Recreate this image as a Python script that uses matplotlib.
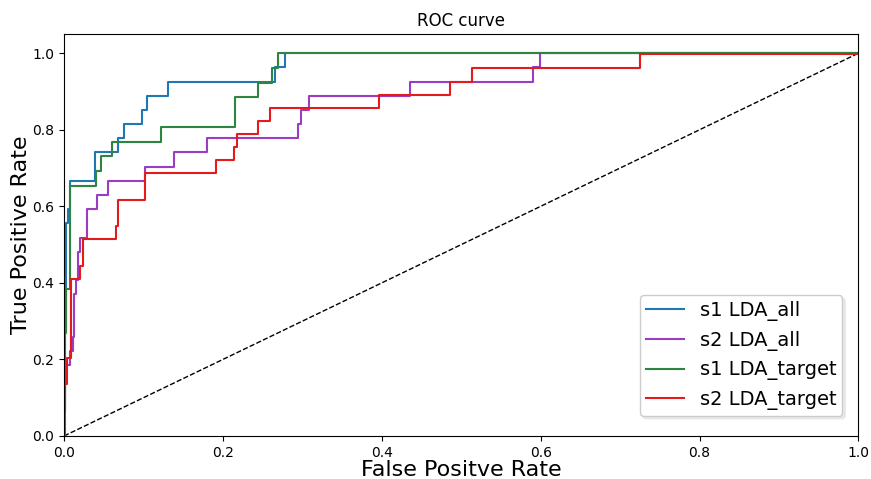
import numpy as np
import matplotlib
matplotlib.use('Agg')
from matplotlib import pyplot as plt

# ROC points (fpr, tpr corners of the step curves)
s1_all_fpr = [0.0, 0.0, 0.001, 0.001, 0.002, 0.002, 0.005, 0.005, 0.007, 0.007, 0.008, 0.008,
              0.039, 0.039, 0.068, 0.068, 0.075, 0.075, 0.098, 0.098, 0.105, 0.105,
              0.131, 0.131, 0.266, 0.266, 0.278, 0.278, 1.0]
s1_all_tpr = [0.0, 0.111, 0.111, 0.296, 0.296, 0.556, 0.556, 0.593, 0.593, 0.630, 0.630, 0.667,
              0.667, 0.741, 0.741, 0.778, 0.778, 0.815, 0.815, 0.852, 0.852, 0.889,
              0.889, 0.926, 0.926, 0.963, 0.963, 1.0, 1.0]

s2_all_fpr = [0.0, 0.0, 0.001, 0.001, 0.008, 0.008, 0.011, 0.011, 0.012, 0.012, 0.015, 0.015,
              0.017, 0.017, 0.020, 0.020, 0.029, 0.029, 0.041, 0.041, 0.055, 0.055,
              0.102, 0.102, 0.138, 0.138, 0.180, 0.180, 0.294, 0.294, 0.298, 0.298,
              0.309, 0.309, 0.436, 0.436, 0.591, 0.591, 0.599, 0.599, 1.0]
s2_all_tpr = [0.0, 0.068, 0.068, 0.185, 0.185, 0.222, 0.222, 0.259, 0.259, 0.370, 0.370, 0.407,
              0.407, 0.481, 0.481, 0.518, 0.518, 0.593, 0.593, 0.630, 0.630, 0.667,
              0.667, 0.704, 0.704, 0.741, 0.741, 0.778, 0.778, 0.815, 0.815, 0.852,
              0.852, 0.889, 0.889, 0.926, 0.926, 0.963, 0.963, 1.0, 1.0]

s1_target_fpr = [0.0, 0.001, 0.001, 0.003, 0.003, 0.007, 0.007, 0.040, 0.040, 0.047, 0.047,
                 0.061, 0.061, 0.122, 0.122, 0.215, 0.215, 0.244, 0.244, 0.262, 0.262,
                 0.269, 0.269, 1.0]
s1_target_tpr = [0.0, 0.0, 0.269, 0.269, 0.385, 0.385, 0.654, 0.654, 0.692, 0.692, 0.731,
                 0.731, 0.769, 0.769, 0.808, 0.808, 0.885, 0.885, 0.923, 0.923, 0.962,
                 0.962, 1.0, 1.0]

s2_target_fpr = [0.0, 0.0, 0.001, 0.001, 0.004, 0.004, 0.009, 0.009, 0.020, 0.020, 0.024, 0.024,
                 0.065, 0.065, 0.068, 0.068, 0.102, 0.102, 0.191, 0.191, 0.214, 0.214,
                 0.218, 0.218, 0.244, 0.244, 0.259, 0.259, 0.397, 0.397, 0.486, 0.486,
                 0.513, 0.513, 0.725, 0.725, 1.0]
s2_target_tpr = [0.0, 0.066, 0.066, 0.135, 0.135, 0.205, 0.205, 0.410, 0.410, 0.444, 0.444, 0.514,
                 0.514, 0.549, 0.549, 0.616, 0.616, 0.686, 0.686, 0.720, 0.720, 0.755,
                 0.755, 0.789, 0.789, 0.824, 0.824, 0.858, 0.858, 0.892, 0.892, 0.925,
                 0.925, 0.962, 0.962, 0.997, 0.997]

chance = [0.0, 1.0]

fig = plt.figure(figsize=(8.71, 4.79), dpi=100)
ax = fig.add_axes([0.0735, 0.0898, 0.912, 0.839])

ax.plot(chance, chance, 'k--', linewidth=1)
ax.plot(s1_all_fpr, s1_all_tpr, color='#1f77b4', linewidth=1.5, label='s1 LDA_all')
ax.plot(s2_all_fpr, s2_all_tpr, color='#9a3cc4', linewidth=1.5, label='s2 LDA_all')
ax.plot(s1_target_fpr, s1_target_tpr, color='#2e8540', linewidth=1.5, label='s1 LDA_target')
ax.plot(s2_target_fpr, s2_target_tpr, color='#e41a1c', linewidth=1.5, label='s2 LDA_target')

ax.set_xlim(0.0, 1.0)
ax.set_ylim(0.0, 1.05)
ax.set_xlabel('False Positve Rate', fontsize=16, labelpad=0)
ax.set_ylabel('True Positive Rate', fontsize=16, labelpad=1)
ax.set_title('ROC curve', fontsize=12)
ax.tick_params(labelsize=10)
ax.legend(loc='lower right', bbox_to_anchor=(0.98, 0.05), borderaxespad=0,
          fontsize=14, borderpad=0.3, shadow={'color': '0.85'})

fig.savefig('out.png', dpi=100)
